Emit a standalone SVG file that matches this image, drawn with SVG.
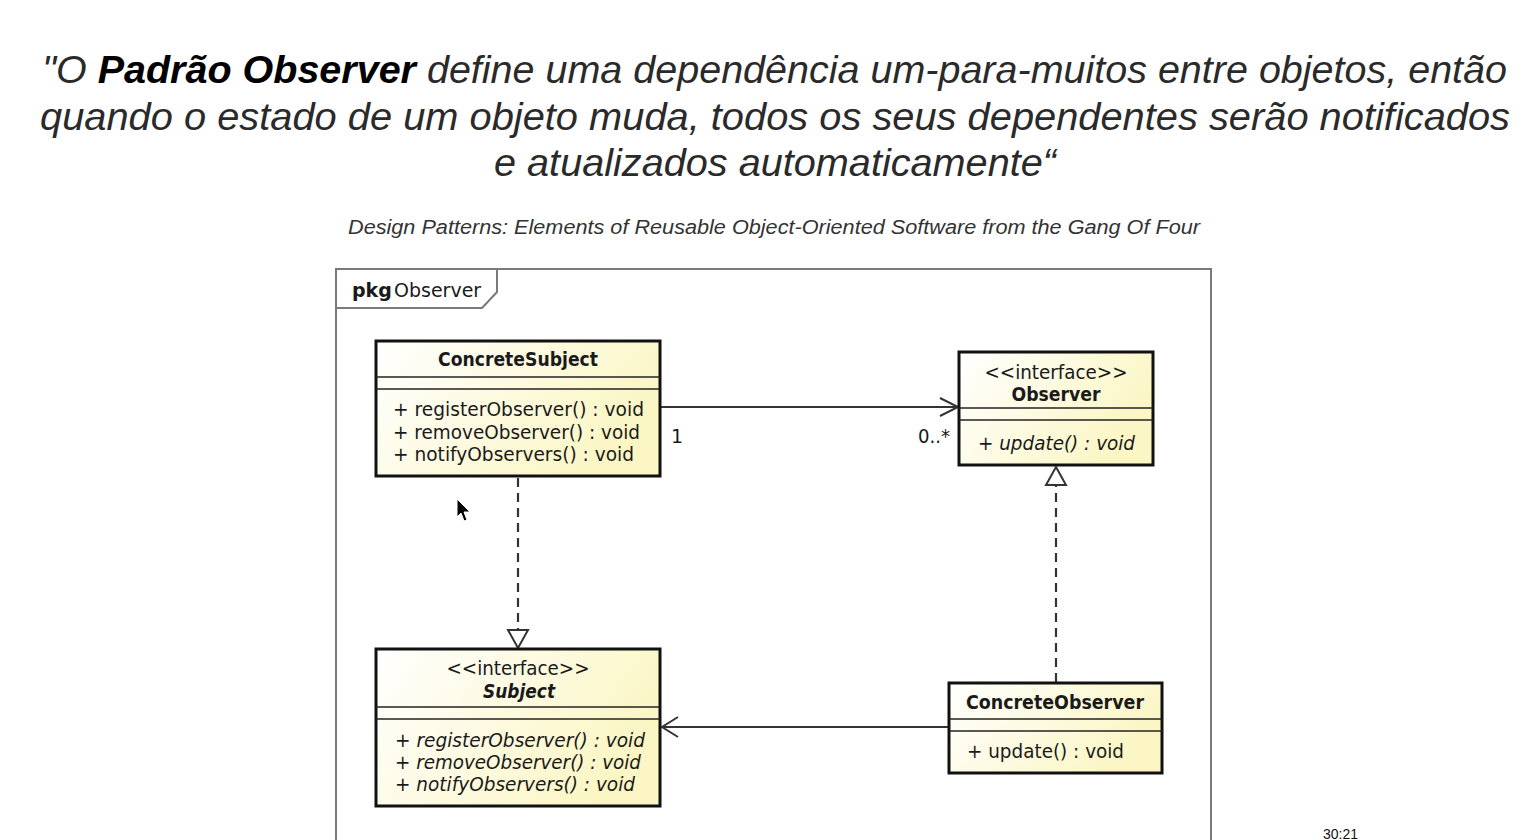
<svg xmlns="http://www.w3.org/2000/svg" width="1522" height="840" viewBox="0 0 1522 840">
<style>
.title{font-family:"Liberation Sans",Arial,sans-serif;font-style:italic;font-size:38px;fill:#2a2a2a;}
.title .b{font-weight:bold;fill:#000;}
.sub{font-family:"Liberation Sans",Arial,sans-serif;font-style:italic;font-size:20px;fill:#333;}
.uml{font-family:"DejaVu Sans","Noto Sans",sans-serif;font-size:19px;fill:#1a1a1a;}
.bold{font-weight:bold;}
.it{font-style:italic;}
.mid{text-anchor:middle;}
.box{stroke:#111;stroke-width:3;fill:url(#yel);}
.sep{stroke:#222;stroke-width:1.5;}
.frame{fill:none;stroke:#7a7a7a;stroke-width:2;}
.line{fill:none;stroke:#333;stroke-width:2;}
.dash{fill:none;stroke:#333;stroke-width:2.2;stroke-dasharray:9,6;}
.tri{fill:#fff;stroke:#333;stroke-width:2;}
</style>
<defs>
<linearGradient id="yel" x1="0" y1="0" x2="1" y2="0.4">
<stop offset="0" stop-color="#ffffff"/>
<stop offset="1" stop-color="#fbf6c4"/>
</linearGradient>
</defs>
<rect width="1522" height="840" fill="#fff"/>
<g id="heading">
<text class="title" x="42" y="83" textLength="1465" lengthAdjust="spacingAndGlyphs">"O <tspan class="b">Padrão Observer</tspan> define uma dependência um-para-muitos entre objetos, então</text>
<text class="title" x="40" y="130" textLength="1470" lengthAdjust="spacingAndGlyphs">quando o estado de um objeto muda, todos os seus dependentes serão notificados</text>
<text class="title" x="494" y="176" textLength="562" lengthAdjust="spacingAndGlyphs">e atualizados automaticamente“</text>
<text class="sub" x="348" y="234" textLength="852" lengthAdjust="spacingAndGlyphs">Design Patterns: Elements of Reusable Object-Oriented Software from the Gang Of Four</text>
</g>
<g id="package">
<path class="frame" d="M336,845 L336,269 L1211,269 L1211,845"/>
<path class="frame" d="M336,308 L482,308 L497,292 L497,269"/>
<text class="uml" x="352" y="297"><tspan class="bold">pkg</tspan><tspan x="394">Observer</tspan></text>
</g>
<g id="connectors">
<line class="line" x1="660" y1="407" x2="958" y2="407"/>
<polyline class="line" points="940,398 958,407 940,416"/>
<text class="uml" x="671" y="443">1</text>
<text class="uml" x="918" y="443" textLength="32" lengthAdjust="spacingAndGlyphs">0..*</text>
<line class="dash" x1="518" y1="478" x2="518" y2="630"/>
<polygon class="tri" points="508,630 528,630 518,648"/>
<line class="dash" x1="1056" y1="682" x2="1056" y2="485"/>
<polygon class="tri" points="1046,485 1066,485 1056,467"/>
<line class="line" x1="949" y1="727" x2="662" y2="727"/>
<polyline class="line" points="678,717 662,727 678,737"/>
</g>
<g id="ConcreteSubject">
<rect class="box" x="376" y="341" width="284" height="135"/>
<line class="sep" x1="376" y1="377" x2="660" y2="377"/>
<line class="sep" x1="376" y1="389" x2="660" y2="389"/>
<text class="uml bold mid" x="518" y="366" textLength="160" lengthAdjust="spacingAndGlyphs">ConcreteSubject</text>
<text class="uml" x="393" y="416" textLength="251" lengthAdjust="spacingAndGlyphs">+ registerObserver() : void</text>
<text class="uml" x="393" y="439" textLength="247" lengthAdjust="spacingAndGlyphs">+ removeObserver() : void</text>
<text class="uml" x="393" y="461" textLength="241" lengthAdjust="spacingAndGlyphs">+ notifyObservers() : void</text>
</g>
<g id="Observer">
<rect class="box" x="959" y="352" width="194" height="113"/>
<line class="sep" x1="959" y1="408" x2="1153" y2="408"/>
<line class="sep" x1="959" y1="420" x2="1153" y2="420"/>
<text class="uml mid" x="1056" y="379" textLength="143" lengthAdjust="spacingAndGlyphs">&lt;&lt;interface&gt;&gt;</text>
<text class="uml bold mid" x="1056" y="401" textLength="89" lengthAdjust="spacingAndGlyphs">Observer</text>
<text class="uml it" x="978" y="450" textLength="157" lengthAdjust="spacingAndGlyphs">+ update() : void</text>
</g>
<g id="Subject">
<rect class="box" x="376" y="649" width="284" height="157"/>
<line class="sep" x1="376" y1="707" x2="660" y2="707"/>
<line class="sep" x1="376" y1="719" x2="660" y2="719"/>
<text class="uml mid" x="518" y="675" textLength="143" lengthAdjust="spacingAndGlyphs">&lt;&lt;interface&gt;&gt;</text>
<text class="uml bold it mid" x="519" y="698" textLength="72" lengthAdjust="spacingAndGlyphs">Subject</text>
<text class="uml it" x="395" y="747" textLength="250" lengthAdjust="spacingAndGlyphs">+ registerObserver() : void</text>
<text class="uml it" x="395" y="769" textLength="246" lengthAdjust="spacingAndGlyphs">+ removeObserver() : void</text>
<text class="uml it" x="395" y="791" textLength="240" lengthAdjust="spacingAndGlyphs">+ notifyObservers() : void</text>
</g>
<g id="ConcreteObserver">
<rect class="box" x="949" y="683" width="213" height="90"/>
<line class="sep" x1="949" y1="719" x2="1162" y2="719"/>
<line class="sep" x1="949" y1="731" x2="1162" y2="731"/>
<text class="uml bold mid" x="1055" y="709" textLength="178" lengthAdjust="spacingAndGlyphs">ConcreteObserver</text>
<text class="uml" x="967" y="758" textLength="157" lengthAdjust="spacingAndGlyphs">+ update() : void</text>
</g>
<path id="cursor" d="M457,499 L457,517 L461,513 L464,521 L467,520 L464,512 L470,512 Z" fill="#000" stroke="#fff" stroke-width="1"/>
<text x="1323" y="839" font-family="Liberation Sans,Arial,sans-serif" font-size="14" fill="#111">30:21</text>
</svg>
